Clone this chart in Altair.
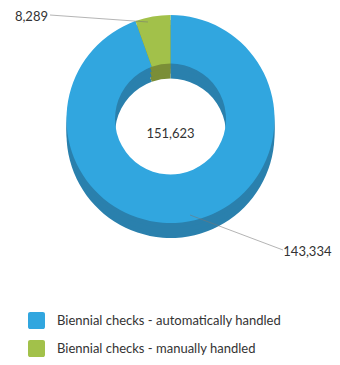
import altair as alt
import pandas as pd

categories = ["Biennial checks - automatically handled", "Biennial checks - manually handled"]
values = [143334, 8289]
value_labels = ["143,334", "8,289"]
total_label = "151,623"
top_colors = ["#31a6df", "#a2c14a"]
side_colors = ["#2a80ad", "#7b8e37"]

df = pd.DataFrame({"category": categories, "value": values, "order": [0, 1]})

CX, CY = 162.5, 111
R_OUT, R_IN = 104, 55.5
DEPTH = 15
FONT = "Lato"

ROUNDED = ("M -0.75,-1 H 0.75 A 0.25,0.25 0 0 1 1,-0.75 V 0.75 A 0.25,0.25 0 0 1 0.75,1 "
           "H -0.75 A 0.25,0.25 0 0 1 -1,0.75 V -0.75 A 0.25,0.25 0 0 1 -0.75,-1 Z")


def ring(dy, colors, legend):
    return alt.Chart(df).mark_arc(radius=R_OUT, radius2=R_IN).encode(
        theta=alt.Theta("value:Q", stack=True),
        color=alt.Color("category:N", scale=alt.Scale(domain=categories, range=colors), legend=legend),
        order=alt.Order("order:Q"),
        x=alt.value(CX),
        y=alt.value(CY + dy),
    )


legend = alt.Legend(
    title=None, orient="none", legendX=20, legendY=304,
    symbolType=ROUNDED, symbolSize=289, symbolStrokeWidth=0,
    labelFont=FONT, labelFontSize=13, labelColor="#333333",
    labelOffset=12, rowPadding=11, labelLimit=400, padding=0,
)

sides = [ring(d, side_colors, None) for d in (DEPTH, 10, 5)]
top = ring(0, top_colors, legend)

center_df = pd.DataFrame({"t": [total_label]})
center = alt.Chart(center_df).mark_text(font=FONT, fontSize=13, color="#333333", baseline="middle").encode(
    text="t:N", x=alt.value(CX), y=alt.value(125.5))

lbl_df = pd.DataFrame({"t": value_labels})
lbl_auto = alt.Chart(lbl_df).transform_filter(alt.datum.t == value_labels[0]).mark_text(
    font=FONT, fontSize=13, color="#333333", align="right", baseline="middle").encode(
    text="t:N", x=alt.value(323.5), y=alt.value(244))
lbl_man = alt.Chart(lbl_df).transform_filter(alt.datum.t == value_labels[1]).mark_text(
    font=FONT, fontSize=13, color="#333333", align="right", baseline="middle").encode(
    text="t:N", x=alt.value(40), y=alt.value(9))

line_man = alt.Chart(lbl_df).transform_filter(alt.datum.t == value_labels[1]).mark_rule(
    color="#777777", opacity=0.55, strokeWidth=1).encode(
    x=alt.value(42), y=alt.value(7), x2=alt.value(140), y2=alt.value(14))
line_auto = alt.Chart(lbl_df).transform_filter(alt.datum.t == value_labels[0]).mark_rule(
    color="#777777", opacity=0.55, strokeWidth=1).encode(
    x=alt.value(275), y=alt.value(242), x2=alt.value(182), y2=alt.value(207))

chart = alt.layer(*sides, top, center, line_man, line_auto, lbl_auto, lbl_man).resolve_scale(
    color="independent"
).properties(
    width=324, height=349, padding=0, autosize="none"
).configure_view(strokeWidth=0)

chart.save("out.html", embed_options={"renderer": "svg", "actions": False})
